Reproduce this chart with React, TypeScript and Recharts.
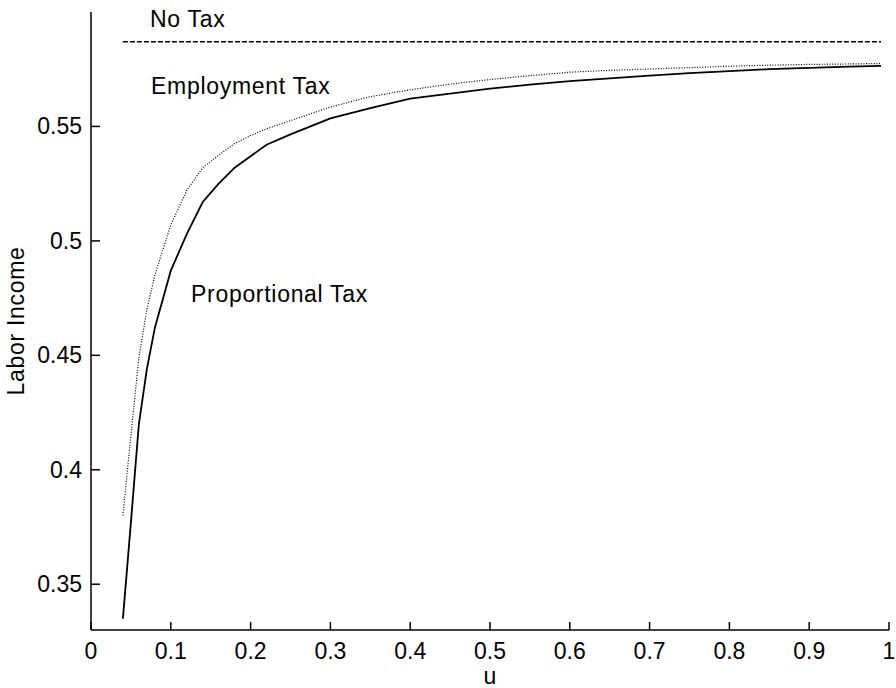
import { Label, Line, LineChart, XAxis, YAxis } from "recharts";

// u grid and labor income
const U = [
  0.04, 0.05, 0.06, 0.07, 0.08, 0.1, 0.12, 0.14, 0.16, 0.18, 0.2, 0.22, 0.25, 0.3,
  0.35, 0.4, 0.45, 0.5, 0.55, 0.6, 0.65, 0.7, 0.75, 0.8, 0.85, 0.9, 0.95, 0.99,
];
const PROPORTIONAL = [
  0.335, 0.377, 0.42, 0.444, 0.462, 0.487, 0.503, 0.517, 0.525, 0.532, 0.537, 0.542,
  0.5465, 0.5535, 0.558, 0.5622, 0.5643, 0.5665, 0.5683, 0.5698, 0.571, 0.5722, 0.5733,
  0.5742, 0.575, 0.5756, 0.5761, 0.5765,
];
const EMPLOYMENT = [
  0.38, 0.415, 0.449, 0.47, 0.485, 0.507, 0.522, 0.532, 0.5375, 0.5425, 0.546, 0.549,
  0.5525, 0.5585, 0.563, 0.566, 0.5685, 0.5705, 0.5722, 0.5737, 0.5745, 0.5751, 0.5757,
  0.5763, 0.5768, 0.5771, 0.5773, 0.5775,
];
const NO_TAX_LEVEL = 0.587;

const X_TICKS = [0, 0.1, 0.2, 0.3, 0.4, 0.5, 0.6, 0.7, 0.8, 0.9, 1];
const Y_TICKS = [0.35, 0.4, 0.45, 0.5, 0.55];

const FONT = "'Liberation Sans', Arial, Helvetica, sans-serif";
const textStyle = { fontSize: 23, fill: "#000", fontFamily: FONT };

const rows = U.map((u, i) => ({
  u,
  proportional: PROPORTIONAL[i],
  employment: EMPLOYMENT[i],
  noTax: NO_TAX_LEVEL,
}));

// ticks point into the plot, labels sit outside
function XTick({ x, y, payload }: any) {
  return (
    <g>
      <line x1={x} y1={y} x2={x} y2={y - 8} stroke="#000" strokeWidth={1.5} />
      <text x={x} y={y + 29} textAnchor="middle" {...textStyle}>
        {String(payload.value)}
      </text>
    </g>
  );
}

function YTick({ x, y, payload }: any) {
  return (
    <g>
      <line x1={x} y1={y} x2={x + 9} y2={y} stroke="#000" strokeWidth={1.5} />
      <text x={x - 9} y={y + 8} textAnchor="end" {...textStyle}>
        {String(payload.value)}
      </text>
    </g>
  );
}

export default function App() {
  return (
    <div style={{ position: "absolute", left: 0, top: 0, width: 896, height: 688, background: "#fff" }}>
      <LineChart width={896} height={688} data={rows} margin={{ top: 12, right: 7, bottom: 0, left: 0 }}>
        <XAxis
          dataKey="u"
          type="number"
          domain={[0, 1]}
          ticks={X_TICKS}
          interval={0}
          height={58}
          tick={<XTick />}
          tickLine={false}
          tickSize={0}
          tickMargin={0}
          stroke="#000"
          strokeWidth={1.5}
        >
          <Label value="u" position="insideBottom" offset={4} style={{ ...textStyle }} />
        </XAxis>
        <YAxis
          type="number"
          domain={[0.33, 0.6]}
          ticks={Y_TICKS}
          interval={0}
          width={91}
          tick={<YTick />}
          tickLine={false}
          tickSize={0}
          tickMargin={0}
          stroke="#000"
          strokeWidth={1.5}
        >
          <Label
            value="Labor Income"
            angle={-90}
            position="insideLeft"
            offset={16}
            textAnchor="middle"
            style={{ ...textStyle, letterSpacing: 0.7 }}
          />
        </YAxis>
        <Line
          dataKey="noTax"
          stroke="#000"
          strokeWidth={1.3}
          strokeDasharray="5 2"
          dot={false}
          isAnimationActive={false}
        />
        <Line
          dataKey="employment"
          stroke="#000"
          strokeWidth={1.2}
          strokeDasharray="1 1.6"
          dot={false}
          isAnimationActive={false}
        />
        <Line
          dataKey="proportional"
          stroke="#000"
          strokeWidth={1.8}
          dot={false}
          isAnimationActive={false}
        />
      </LineChart>
      <svg
        width={896}
        height={688}
        style={{ position: "absolute", left: 0, top: 0, pointerEvents: "none" }}
      >
        <g fontFamily={FONT} fontSize={23} fill="#000" letterSpacing={0.7}>
          <text x={150} y={27}>No Tax</text>
          <text x={151} y={94}>Employment Tax</text>
          <text x={191} y={302}>Proportional Tax</text>
        </g>
      </svg>
    </div>
  );
}
